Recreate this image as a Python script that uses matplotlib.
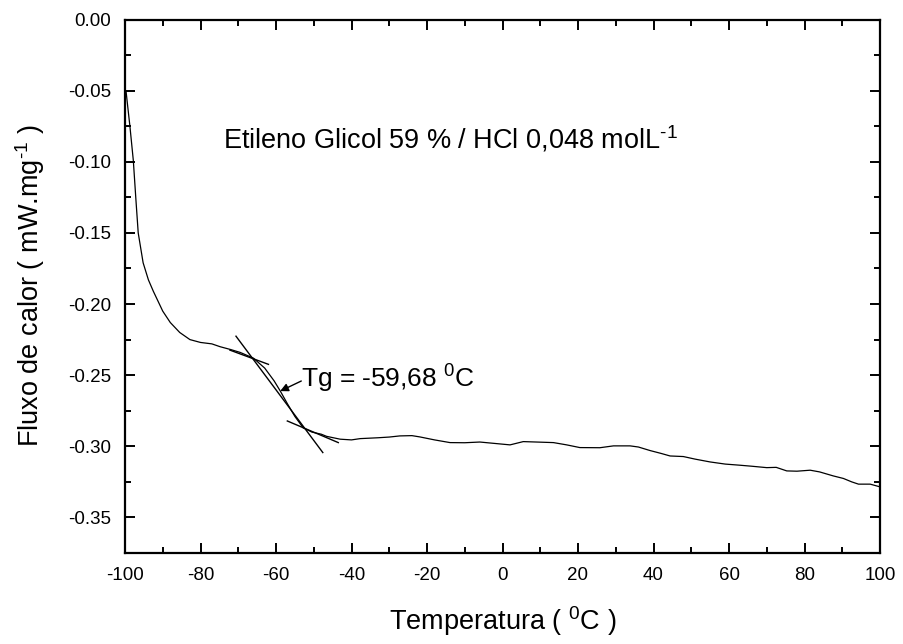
import matplotlib
matplotlib.use("Agg")
import matplotlib.pyplot as plt
from matplotlib.ticker import MultipleLocator, FormatStrFormatter

plt.rcParams['font.family'] = ['Liberation Sans', 'DejaVu Sans']
plt.rcParams['mathtext.fontset'] = 'custom'
plt.rcParams['mathtext.rm'] = 'Liberation Sans'
plt.rcParams['mathtext.it'] = 'Liberation Sans'
plt.rcParams['axes.unicode_minus'] = False

# DSC trace: temperature (°C) vs heat flow (mW/mg)
temperature = [-100, -99.7, -98.7, -97.8, -97.1, -96.5, -95.2, -93.8, -92.5, -90, -88,
               -85.5, -82.8, -80, -77, -74.8, -72, -69.5, -66, -63, -60.5, -58.9, -57,
               -55, -52.8, -50.5, -48, -46.6, -43, -40, -37.7, -33, -30, -27.2, -24,
               -21.9, -18, -13.9, -10, -6, -2, 2, 5.5, 9, 13.5, 17, 20.5, 25.8, 29.4,
               33.8, 36, 39.1, 42, 44.4, 47.9, 51, 55, 59, 62.9, 66, 70, 72.5, 75.3,
               78, 81.5, 84, 87.6, 90.3, 92.5, 94.3, 97.4, 100]
heat_flow = [-0.049, -0.051, -0.075, -0.099, -0.127, -0.150, -0.171, -0.183, -0.191,
             -0.205, -0.213, -0.220, -0.225, -0.227, -0.228, -0.230, -0.232, -0.234,
             -0.238, -0.245, -0.254, -0.261, -0.270, -0.279, -0.287, -0.290, -0.2915,
             -0.293, -0.295, -0.2955, -0.2946, -0.294, -0.2935, -0.2927, -0.2925,
             -0.2934, -0.2955, -0.2974, -0.2975, -0.297, -0.298, -0.299, -0.2967,
             -0.297, -0.2974, -0.299, -0.3009, -0.3010, -0.2997, -0.2997, -0.3005,
             -0.3030, -0.3050, -0.3068, -0.3072, -0.3090, -0.3110, -0.3125, -0.3133,
             -0.3140, -0.3150, -0.3148, -0.3173, -0.3175, -0.3168, -0.3180, -0.3208,
             -0.3226, -0.3250, -0.3266, -0.3266, -0.3285]

# Tangent construction used for the glass transition
tangent_upper_x = [-72.2, -62.0]
tangent_upper_y = [-0.2324, -0.2424]
tangent_step_x = [-70.6, -47.6]
tangent_step_y = [-0.2226, -0.3044]
tangent_lower_x = [-57.0, -43.5]
tangent_lower_y = [-0.2822, -0.2974]

tg_value = "-59,68"
x_ticks = [-100, -80, -60, -40, -20, 0, 20, 40, 60, 80, 100]
y_ticks = [0.00, -0.05, -0.10, -0.15, -0.20, -0.25, -0.30, -0.35]

SUP_MINUS_ONE = r'$^{\text{-1}}$'
SUP_ZERO = r'$^{\mathrm{0}}$'

fig = plt.figure(figsize=(9.04, 6.44), dpi=100)
ax = fig.add_axes([125/904, 1 - 553/644, 755/904, (553 - 19.5)/644])

ax.plot(temperature, heat_flow, color='black', lw=0.9)
for tx, ty in [(tangent_upper_x, tangent_upper_y),
               (tangent_step_x, tangent_step_y),
               (tangent_lower_x, tangent_lower_y)]:
    ax.plot(tx, ty, color='black', lw=1.0)

ax.annotate('', xy=(-58.9, -0.2612), xytext=(-53.3, -0.2541),
            arrowprops=dict(arrowstyle='-|>', color='black', lw=1.0,
                            mutation_scale=12, shrinkA=0, shrinkB=0))
ax.text(-53.4, -0.2588, 'Tg = ' + tg_value + ' ' + SUP_ZERO + 'C', fontsize=19,
        ha='left', va='baseline')
ax.text(-74.0, -0.0904, 'Etileno Glicol 59 % / HCl 0,048 molL' + SUP_MINUS_ONE,
        fontsize=19.5, ha='left', va='baseline')

ax.set_xlim(-100, 100)
ax.set_ylim(-0.375, 0.0)
ax.set_xticks(x_ticks)
ax.set_yticks(y_ticks)
ax.xaxis.set_minor_locator(MultipleLocator(10))
ax.yaxis.set_minor_locator(MultipleLocator(0.025))
ax.yaxis.set_major_formatter(FormatStrFormatter('%.2f'))
ax.xaxis.set_major_formatter(FormatStrFormatter('%d'))

ax.tick_params(which='both', direction='in', top=True, right=True,
               labelsize=13.5, width=1.4, pad=10)
ax.tick_params(which='major', length=7.5)
ax.tick_params(which='minor', length=4.3)
for sp in ax.spines.values():
    sp.set_linewidth(1.6)

fig.text(503/904, 1 - 621/644, 'Temperatura ( ' + SUP_ZERO + 'C )', fontsize=19.5,
         ha='center', va='center')
fig.text(30/904, 1 - 286/644, 'Fluxo de calor ( mW.mg' + SUP_MINUS_ONE + ' )',
         fontsize=19.5, ha='center', va='center', rotation=90)

fig.savefig('out.png', dpi=100)
